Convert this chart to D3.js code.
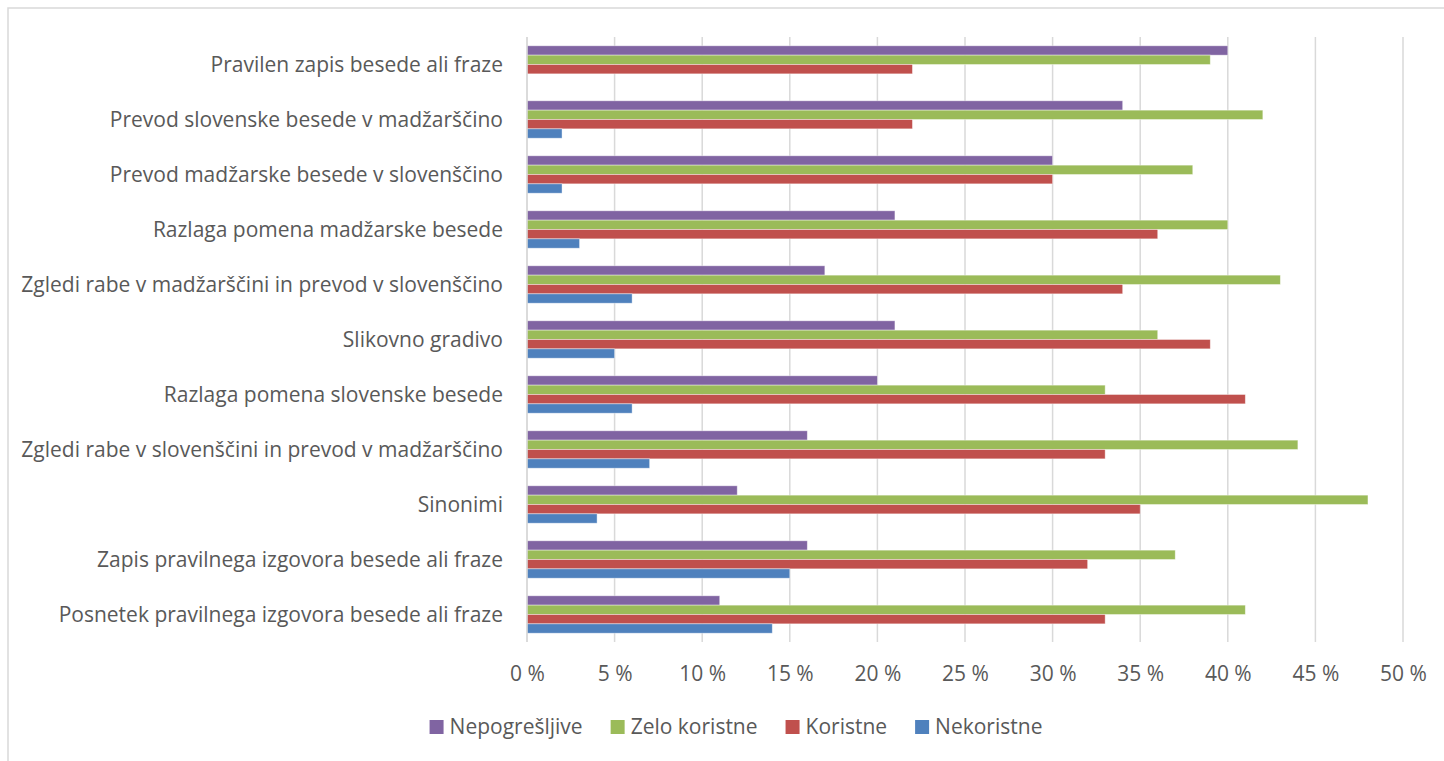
<!DOCTYPE html>
<html>
<head>
<meta charset="utf-8">
<script src="https://cdn.jsdelivr.net/npm/d3@7"></script>
<style>
  body { margin: 0; background: #fff; }
  text { font-family: "Open Sans", sans-serif; fill: #595959; }
</style>
</head>
<body>
<script>
// Podatki
const categories = [
  "Pravilen zapis besede ali fraze",
  "Prevod slovenske besede v madžarščino",
  "Prevod madžarske besede v slovenščino",
  "Razlaga pomena madžarske besede",
  "Zgledi rabe v madžarščini in prevod v slovenščino",
  "Slikovno gradivo",
  "Razlaga pomena slovenske besede",
  "Zgledi rabe v slovenščini in prevod v madžarščino",
  "Sinonimi",
  "Zapis pravilnega izgovora besede ali fraze",
  "Posnetek pravilnega izgovora besede ali fraze"
];
const seriesNames = ["Nepogrešljive", "Zelo koristne", "Koristne", "Nekoristne"];
const nepogresljive = [40, 34, 30, 21, 17, 21, 20, 16, 12, 16, 11];
const zeloKoristne  = [39, 42, 38, 40, 43, 36, 33, 44, 48, 37, 41];
const koristne      = [22, 22, 30, 36, 34, 39, 41, 33, 35, 32, 33];
const nekoristne    = [0, 2, 2, 3, 6, 5, 6, 7, 4, 15, 14];
const xTicks = [0, 5, 10, 15, 20, 25, 30, 35, 40, 45, 50];
const colors = ["#8064A2", "#9BBB59", "#C0504D", "#4F81BD"];

const values = [nepogresljive, zeloKoristne, koristne, nekoristne];

// Dimenzije
const w = 1444, h = 761;
const pLeft = 527, pRight = 1403, pTop = 37, pBottom = 642;
const fs = "21px";

const svg = d3.select("body").append("svg")
  .attr("width", w).attr("height", h);

// okvir
svg.append("rect")
  .attr("x", 8).attr("y", 8)
  .attr("width", w + 20).attr("height", h + 20)
  .attr("fill", "none").attr("stroke", "#d9d9d9").attr("stroke-width", 1.5);

const x = d3.scaleLinear().domain([0, 50]).range([pLeft, pRight]);
const y = d3.scaleBand().domain(categories).range([pTop, pBottom]).paddingInner(0.32).paddingOuter(0.16);
const ySub = d3.scaleBand().domain(seriesNames).range([0, y.bandwidth()]);

// mreža
svg.append("g").selectAll("line")
  .data(xTicks)
  .enter().append("line")
  .attr("x1", d => x(d)).attr("x2", d => x(d))
  .attr("y1", pTop).attr("y2", pBottom)
  .attr("stroke", "#d9d9d9").attr("stroke-width", 1.5);

// stolpci
const groups = svg.append("g").selectAll("g")
  .data(categories)
  .enter().append("g")
  .attr("transform", d => "translate(0," + y(d) + ")");

groups.selectAll("rect")
  .data((d, i) => seriesNames.map((s, j) => ({ s: s, v: values[j][i], c: colors[j] })))
  .enter().append("rect")
  .attr("x", x(0))
  .attr("y", d => ySub(d.s))
  .attr("width", d => x(d.v) - x(0))
  .attr("height", ySub.bandwidth())
  .attr("fill", d => d.c)
  .attr("stroke", "#fff").attr("stroke-opacity", 0.5).attr("stroke-width", 0.8);

// os y
svg.append("line")
  .attr("x1", pLeft).attr("x2", pLeft).attr("y1", pTop).attr("y2", pBottom)
  .attr("stroke", "#d9d9d9").attr("stroke-width", 1.5);

svg.append("g").selectAll("text")
  .data(categories)
  .enter().append("text")
  .attr("x", 503)
  .attr("y", d => y(d) + y.bandwidth() / 2)
  .attr("dy", "0.35em")
  .attr("text-anchor", "end")
  .attr("font-size", fs)
  .text(d => d);

// os x
const xAxis = d3.axisBottom(x).tickValues(xTicks).tickSize(0).tickFormat(d => d + " %");
const gx = svg.append("g")
  .attr("transform", "translate(0," + pBottom + ")")
  .call(xAxis);
gx.select(".domain").remove();
gx.selectAll("text")
  .attr("y", 39)
  .attr("dy", 0)
  .attr("font-size", fs)
  .style("font-family", "'Open Sans', sans-serif")
  .attr("fill", "#595959");

// legenda
const legend = svg.append("g");
let lx = 0;
seriesNames.forEach((s, i) => {
  const item = legend.append("g").attr("transform", "translate(" + lx + ",0)");
  item.append("rect")
    .attr("x", 0).attr("y", 720).attr("width", 14).attr("height", 14)
    .attr("fill", colors[i]);
  const t = item.append("text")
    .attr("x", 20).attr("y", 734)
    .attr("font-size", fs)
    .text(s);
  lx += 20 + t.node().getComputedTextLength() + 28;
});
legend.attr("transform", "translate(" + (736 - (lx - 28) / 2) + ",0)");
</script>
</body>
</html>
